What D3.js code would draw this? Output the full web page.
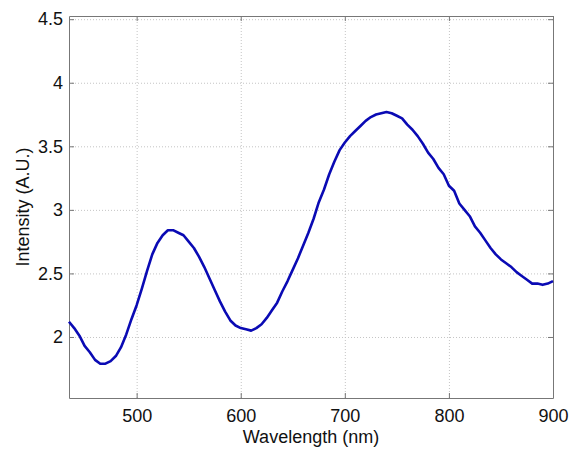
<!DOCTYPE html>
<html lang="en">
<head>
<meta charset="utf-8">
<title>Intensity spectrum</title>
<script src="https://cdn.jsdelivr.net/npm/d3@7"></script>
<style>
  body { margin: 0; background: #fff; }
  text { font-family: "Liberation Sans", Arial, sans-serif; fill: #111; }
  .grid line { stroke: #c4c4c4; stroke-dasharray: 1,2; }
  .grid path { display: none; }
  .axis path, .axis line { stroke: #777; }
</style>
</head>
<body>
<script>
// wavelength in nm, every 5 nm
var wavelength = [435, 440, 445, 450, 455, 460, 465, 470, 475, 480, 485, 490, 495,
  500, 505, 510, 515, 520, 525, 530, 535, 540, 545, 550, 555, 560, 565, 570, 575,
  580, 585, 590, 595, 600, 605, 610, 615, 620, 625, 630, 635, 640, 645, 650, 655,
  660, 665, 670, 675, 680, 685, 690, 695, 700, 705, 710, 715, 720, 725, 730, 735,
  740, 745, 750, 755, 760, 765, 770, 775, 780, 785, 790, 795, 800, 805, 810, 815,
  820, 825, 830, 835, 840, 845, 850, 855, 860, 865, 870, 875, 880, 885, 890, 895, 900];

// intensity (A.U.)
var intensity = [2.12, 2.07, 2.01, 1.93, 1.88, 1.82, 1.79, 1.79, 1.81, 1.85, 1.92, 2.02, 2.14,
  2.25, 2.38, 2.52, 2.65, 2.74, 2.80, 2.84, 2.84, 2.82, 2.80, 2.75, 2.70, 2.63, 2.55, 2.46, 2.37,
  2.28, 2.20, 2.13, 2.09, 2.07, 2.06, 2.05, 2.07, 2.10, 2.15, 2.21, 2.27, 2.36, 2.44, 2.53, 2.62,
  2.72, 2.82, 2.93, 3.06, 3.16, 3.28, 3.38, 3.47, 3.53, 3.58, 3.62, 3.66, 3.70, 3.73, 3.75, 3.76,
  3.77, 3.76, 3.74, 3.72, 3.67, 3.63, 3.58, 3.52, 3.45, 3.40, 3.33, 3.28, 3.19, 3.15, 3.05, 3.00,
  2.95, 2.87, 2.82, 2.76, 2.70, 2.65, 2.61, 2.58, 2.55, 2.51, 2.48, 2.45, 2.42, 2.42, 2.41, 2.42, 2.44];

var xTicks = [500, 600, 700, 800, 900];
var yTicks = [2, 2.5, 3, 3.5, 4, 4.5];

var w = 569, h = 451;
// plot box edges (window.top is taken, so own names)
var padL = 69, padR = 553, padT = 16, padB = 398;

var svg = d3.select("body").append("svg")
  .attr("width", w)
  .attr("height", h);

var x = d3.scaleLinear().domain([435, 900]).range([padL, padR]);
var y = d3.scaleLinear().domain([1.52, 4.525]).range([padB, padT]);

// dotted grid
svg.append("g")
  .attr("class", "grid")
  .attr("transform", "translate(0," + padB + ")")
  .call(d3.axisBottom(x).tickValues(xTicks).tickSize(-(padB - padT)).tickFormat(""));
svg.append("g")
  .attr("class", "grid")
  .attr("transform", "translate(" + padL + ",0)")
  .call(d3.axisLeft(y).tickValues(yTicks).tickSize(-(padR - padL)).tickFormat(""));

// box with inward ticks on all sides
svg.append("g")
  .attr("class", "axis")
  .attr("transform", "translate(0," + padB + ")")
  .call(d3.axisBottom(x).tickValues(xTicks).tickSizeInner(-5).tickSizeOuter(0).tickPadding(11))
  .selectAll("text").style("font-size", "18px");
svg.append("g")
  .attr("class", "axis")
  .attr("transform", "translate(0," + padT + ")")
  .call(d3.axisTop(x).tickValues(xTicks).tickSizeInner(-5).tickSizeOuter(0).tickFormat(""));
svg.append("g")
  .attr("class", "axis")
  .attr("transform", "translate(" + padL + ",0)")
  .call(d3.axisLeft(y).tickValues(yTicks).tickSizeInner(-5).tickSizeOuter(0).tickPadding(6)
    .tickFormat(d3.format("~g")))
  .selectAll("text").style("font-size", "18px");
svg.append("g")
  .attr("class", "axis")
  .attr("transform", "translate(" + padR + ",0)")
  .call(d3.axisRight(y).tickValues(yTicks).tickSizeInner(-5).tickSizeOuter(0).tickFormat(""));

svg.selectAll(".axis text").attr("fill", "#111");

// the spectrum
var line = d3.line()
  .x(function(d, i) { return x(wavelength[i]); })
  .y(function(d) { return y(d); });

svg.append("path")
  .datum(intensity)
  .attr("d", line)
  .attr("fill", "none")
  .attr("stroke", "#0a0ab4")
  .attr("stroke-width", 2.6)
  .attr("stroke-linejoin", "round");

// axis titles
svg.append("text")
  .attr("x", (padL + padR) / 2)
  .attr("y", 443)
  .attr("text-anchor", "middle")
  .style("font-size", "18px")
  .text("Wavelength (nm)");

svg.append("text")
  .attr("transform", "translate(29," + (padT + padB) / 2 + ") rotate(-90)")
  .attr("text-anchor", "middle")
  .style("font-size", "18px")
  .text("Intensity (A.U.)");
</script>
</body>
</html>
